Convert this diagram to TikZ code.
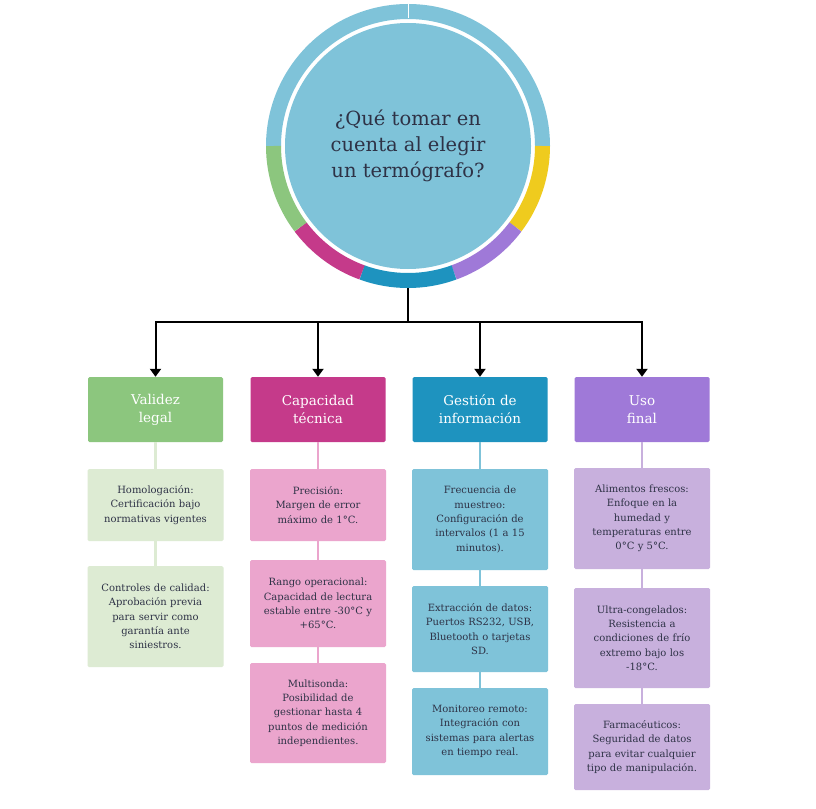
\documentclass[tikz,border=0pt]{standalone}
\usepackage{fontspec}
\setmainfont{DejaVu Serif}
\usetikzlibrary{arrows.meta}
\definecolor{txt}{HTML}{2E3246}
\definecolor{cblue}{HTML}{7FC3D9}
\definecolor{gH}{HTML}{8CC67E}\definecolor{gL}{HTML}{DDEBD3}
\definecolor{mH}{HTML}{C53A8A}\definecolor{mL}{HTML}{EBA5CD}
\definecolor{bH}{HTML}{1E93BF}\definecolor{bL}{HTML}{7FC3D9}
\definecolor{pH}{HTML}{9F79D8}\definecolor{pL}{HTML}{C8B0DD}
\definecolor{yel}{HTML}{EFCB1E}
\tikzset{
 head/.style={fill=#1,rounded corners=1.5pt,minimum width=135pt,minimum height=65pt,text width=134pt,align=center,text=white,font=\fontsize{13.5}{18}\selectfont,inner sep=0pt},
 sub/.style={fill=#1,rounded corners=1.5pt,minimum width=136pt,text width=136pt,align=center,text=txt,font=\fontsize{10}{14.3}\selectfont,inner sep=0pt},
 link/.style={draw=#1,line width=2.5pt},
 arr/.style={line width=2pt,-{Triangle[length=8pt,width=11pt]}}
}
\begin{document}
\begin{tikzpicture}[x=1pt,y=-1pt]
\useasboundingbox (0,0) rectangle (816,808);
\fill[white] (0,0) rectangle (816,808);
% ring
\coordinate (c) at (408,146);
\foreach \a/\b/\col in {90/180/cblue,0/90/cblue,-37/0/yel,-70/-37/pH,-110/-70/bH,-143/-110/mH,-180/-143/gH}{
 \draw[\col,line width=15pt] (c) ++(\a:134.5pt) arc[start angle=\a,end angle=\b,radius=134.5pt];}
\draw[white,line width=0.6pt] (408,4) -- (408,18);
\node[circle,fill=cblue,minimum size=246pt,inner sep=0pt,align=center,text=txt,font=\fontsize{19.5}{26}\selectfont] (q) at (c) {¿Qué tomar en\\cuenta al elegir\\un termógrafo?};
% headers
\node[head=gH] (h1) at (155.5,409.5) {Validez\\legal};
\node[head=mH] (h2) at (318,409.5) {Capacidad\\técnica};
\node[head=bH] (h3) at (480,409.5) {Gestión de\\información};
\node[head=pH] (h4) at (642,409.5) {Uso\\final};
\coordinate (j) at (408,322);
\draw[line width=2pt] (408,288) -- (j);
\draw[line width=2pt] (155.5,322) -- (642,322);
\foreach \i/\x in {1/155.5,2/318,3/480,4/642}{\draw[arr] (\x,321) -- (h\i.north);}
% sub boxes
\node[sub=gL,minimum height=72pt] (a1) at (155.5,505) {Homologación:\\Certificación bajo\\normativas vigentes};
\node[sub=gL,minimum height=101pt] (a2) at (155.5,616.5) {Controles de calidad:\\Aprobación previa\\para servir como\\garantía ante\\siniestros.};
\node[sub=mL,minimum height=72pt] (b1) at (318,505) {Precisión:\\Margen de error\\máximo de 1°C.};
\node[sub=mL,minimum height=87pt] (b2) at (318,603.5) {Rango operacional:\\Capacidad de lectura\\estable entre -30°C y\\+65°C.};
\node[sub=mL,minimum height=100pt] (b3) at (318,713) {Multisonda:\\Posibilidad de\\gestionar hasta 4\\puntos de medición\\independientes.};
\node[sub=bL,minimum height=101pt] (c1) at (480,519.5) {Frecuencia de\\muestreo:\\Configuración de\\intervalos (1 a 15\\minutos).};
\node[sub=bL,minimum height=86pt] (c2) at (480,629) {Extracción de datos:\\Puertos RS232, USB,\\Bluetooth o tarjetas\\SD.};
\node[sub=bL,minimum height=87pt] (c3) at (480,731.5) {Monitoreo remoto:\\Integración con\\sistemas para alertas\\en tiempo real.};
\node[sub=pL,minimum height=101pt] (d1) at (642,518.5) {Alimentos frescos:\\Enfoque en la\\humedad y\\temperaturas entre\\0°C y 5°C.};
\node[sub=pL,minimum height=100pt] (d2) at (642,638) {Ultra-congelados:\\Resistencia a\\condiciones de frío\\extremo bajo los\\-18°C.};
\node[sub=pL,minimum height=86pt] (d3) at (642,747) {Farmacéuticos:\\Seguridad de datos\\para evitar cualquier\\tipo de manipulación.};
\draw[link=gL] (h1.south) -- (a1.north); \draw[link=gL] (a1.south) -- (a2.north);
\draw[link=mL] (h2.south) -- (b1.north); \draw[link=mL] (b1.south) -- (b2.north); \draw[link=mL] (b2.south) -- (b3.north);
\draw[link=bL] (h3.south) -- (c1.north); \draw[link=bL] (c1.south) -- (c2.north); \draw[link=bL] (c2.south) -- (c3.north);
\draw[link=pL] (h4.south) -- (d1.north); \draw[link=pL] (d1.south) -- (d2.north); \draw[link=pL] (d2.south) -- (d3.north);
\end{tikzpicture}
\end{document}
